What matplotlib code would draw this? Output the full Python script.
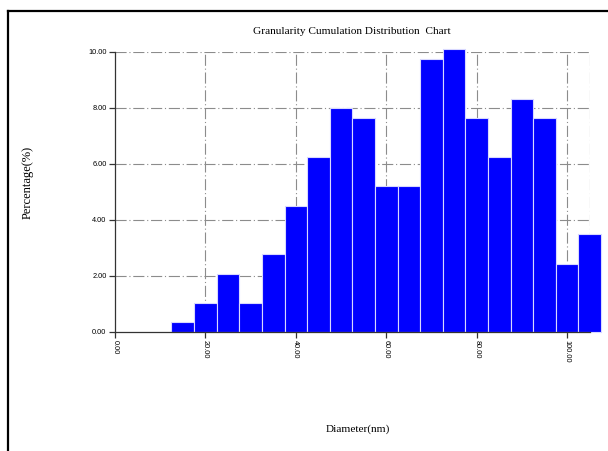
import matplotlib
matplotlib.use("Agg")
import matplotlib.pyplot as plt
from matplotlib.lines import Line2D

centers = [15, 20, 25, 30, 35, 40, 45, 50, 55, 60, 65, 70, 75, 80, 85, 90, 95, 100, 105]
values = [0.34, 1.04, 2.05, 1.04, 2.76, 4.50, 6.23, 7.99, 7.64, 5.20, 5.20, 9.73, 10.09,
          7.64, 6.23, 8.31, 7.64, 2.41, 3.48]
xticks = [0, 20, 40, 60, 80, 100]
yticks = [0, 2, 4, 6, 8, 10]
xticklabels = ["0.00", "20.00", "40.00", "60.00", "80.00", "100.00"]
yticklabels = ["0.00", "2.00", "4.00", "6.00", "8.00", "10.00"]

fig = plt.figure(figsize=(6.08, 4.51), dpi=100)
fig.patch.set_facecolor("white")
ax = fig.add_axes([0.189, 0.2645, 0.781, 0.621])

grid_ls = (0, (10, 2.5, 1, 2.5))
for x in [20, 40, 60, 80, 100, 105]:
    ax.axvline(x, color="#8c8c8c", lw=0.8, ls=grid_ls, zorder=1)
for y in [2, 4, 6, 8]:
    ax.axhline(y, color="#8c8c8c", lw=0.8, ls=grid_ls, zorder=1)
ax.axhline(10, color="#8c8c8c", lw=0.8, ls=grid_ls, zorder=1)
ax.axhline(10.07, color="#8c8c8c", lw=0.8, ls=grid_ls, zorder=1)

ax.bar(centers, values, width=5, color="#0000ff", edgecolor="#d8d8ff",
       linewidth=0.8, zorder=2, clip_on=False)

ax.set_xlim(0, 105)
ax.set_ylim(0, 10)
for s in ["top", "right"]:
    ax.spines[s].set_visible(False)
for s in ["left", "bottom"]:
    ax.spines[s].set_linewidth(0.9)
    ax.spines[s].set_color("#333333")
    ax.spines[s].set_zorder(3)

ax.set_xticks(xticks)
ax.set_xticklabels(xticklabels, rotation=270, fontsize=5.3, family="Liberation Sans")
ax.set_yticks(yticks)
ax.set_yticklabels(yticklabels, fontsize=5.3, family="Liberation Sans")
ax.tick_params(axis="both", length=4, width=0.9, pad=2, color="#333333")

fig.text(352 / 608, 1 - 32 / 451, "Granularity Cumulation Distribution  Chart",
         ha="center", va="center", fontsize=8.1, family="Liberation Serif")
fig.text(358 / 608, 1 - 429 / 451, "Diameter(nm)",
         ha="center", va="center", fontsize=8.1, family="Liberation Serif")
fig.text(28 / 608, 1 - 182 / 451, "Percentage(%)", rotation=90,
         ha="center", va="center", fontsize=9, family="Liberation Serif")

# frame lines at top and left
fig.add_artist(Line2D([7.5 / 608, 7.5 / 608], [0, 1 - 11 / 451], color="black", lw=1.6,
                      transform=fig.transFigure))
fig.add_artist(Line2D([7.5 / 608, 1], [1 - 11 / 451, 1 - 11 / 451], color="black", lw=1.6,
                      transform=fig.transFigure))

fig.savefig("out.png", dpi=100)
